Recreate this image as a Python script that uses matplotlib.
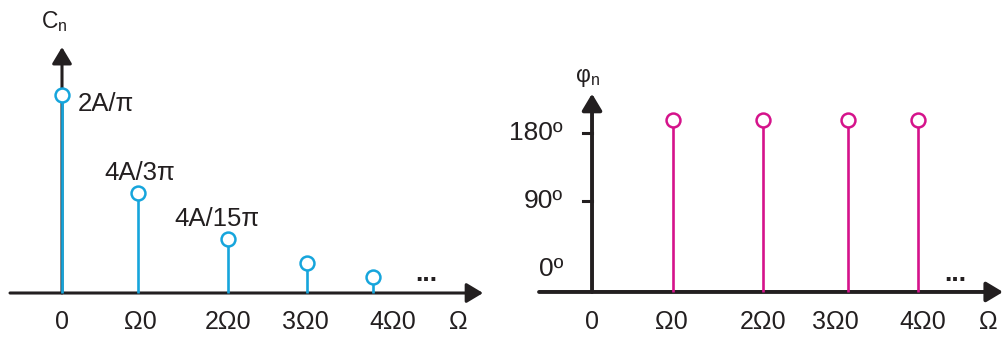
import matplotlib
matplotlib.use("Agg")
import matplotlib.pyplot as plt

plt.rcParams['font.family'] = ['Liberation Sans', 'DejaVu Sans']
plt.rcParams['mathtext.fontset'] = 'custom'
plt.rcParams['mathtext.rm'] = 'Liberation Sans'

# amplitude spectrum (positions in units of Omega0 as drawn, amplitude normalised to C0)
cn_pos = [0, 1, 2.18, 3.22, 4.09]
cn_amp = [1.0, 0.505, 0.273, 0.152, 0.081]
cn_text = ['2A/π', '4A/3π', '4A/15π']

# phase spectrum (degrees)
ph_pos = [1, 2.11, 3.16, 4.02]
ph_deg = [197, 197, 197, 197]
ph_ticks = [0, 90, 180]
ph_ticklabels = ['0º', '90º', '180º']

freq_labels = ['0', 'Ω0', '2Ω0', '3Ω0', '4Ω0', 'Ω']

# layout
left_label_x = [0, 1.03, 2.18, 3.20, 4.355, 5.21]
right_label_x = [0, 0.975, 2.11, 3.0, 4.086, 4.89]
text_offsets = [(11, -6.5), (1.5, 14.5), (-8, 14.5)]

BLUE = '#16a5dc'
PINK = '#d5138b'
INK = '#231f20'
FS = 18

fig = plt.figure(figsize=(10.04, 3.37), dpi=100)


def axis_arrow(ax, start, tip, lw):
    ax.annotate('', xy=tip, xytext=start,
                arrowprops=dict(arrowstyle='-|>,head_length=1.0,head_width=0.6',
                                lw=lw, color=INK, shrinkA=0, shrinkB=0,
                                mutation_scale=10))


# ---- left: amplitude ----
ax1 = fig.add_axes([0, 0, 500 / 1004, 1])
ax1.set_xlim(-0.8158, 5.763)
ax1.set_ylim(-0.2222, 1.4798)
ax1.axis('off')

axis_arrow(ax1, (-0.684, 0), (5.54, 0), 2.2)
axis_arrow(ax1, (0, 0), (0, 1.242), 2.2)

ax1.vlines(cn_pos, 0, cn_amp, color=BLUE, lw=1.9, zorder=3)
ax1.plot(cn_pos, cn_amp, 'o', ms=10, mfc='white', mec=BLUE, mew=1.8, zorder=4)

for i, t in enumerate(cn_text):
    ha = 'left' if i == 0 else 'center'
    ax1.annotate(t, (cn_pos[i], cn_amp[i]), xytext=text_offsets[i],
                 textcoords='offset points', ha=ha, va='center', fontsize=18.5, color=INK)

for x, lab in zip(left_label_x, freq_labels):
    ax1.text(x, -0.146, lab, ha='center', va='center', fontsize=FS, color=INK)

ax1.text(-0.105, 1.37, 'C$_{\\mathrm{n}}$', ha='center', va='center', fontsize=16.5, color=INK)
ax1.text(4.79, 0.06, '...', ha='center', va='baseline', fontsize=19,
         fontweight='bold', color=INK)

# ---- right: phase ----
ax2 = fig.add_axes([500 / 1004, 0, 504 / 1004, 1])
ax2.set_xlim(-1.136, 5.086)
ax2.set_ylim(-90.0, 356.0)
ax2.axis('off')

base = -30.4
axis_arrow(ax2, (-0.654, base), (5.074, base), 2.8)
axis_arrow(ax2, (0, base), (0, 232), 2.8)

for v, lab in zip(ph_ticks, ph_ticklabels):
    if v > 0:
        ax2.plot([-0.11, 0], [v, v], color=INK, lw=2.2)
    ax2.text(-0.357, v, lab, ha='right', va='center', fontsize=19, color=INK)

ax2.vlines(ph_pos, base, ph_deg, color=PINK, lw=1.9, zorder=3)
ax2.plot(ph_pos, ph_deg, 'o', ms=10, mfc='white', mec=PINK, mew=1.8, zorder=4)

for x, lab in zip(right_label_x, freq_labels):
    ax2.text(x, -70, lab, ha='center', va='center', fontsize=FS, color=INK)

ax2.text(-0.06, 253, 'φ$_{\\mathrm{n}}$', ha='center', va='center', fontsize=16.5, color=INK)
ax2.text(4.49, -16, '...', ha='center', va='baseline', fontsize=19,
         fontweight='bold', color=INK)

fig.savefig('out.png', dpi=100)
